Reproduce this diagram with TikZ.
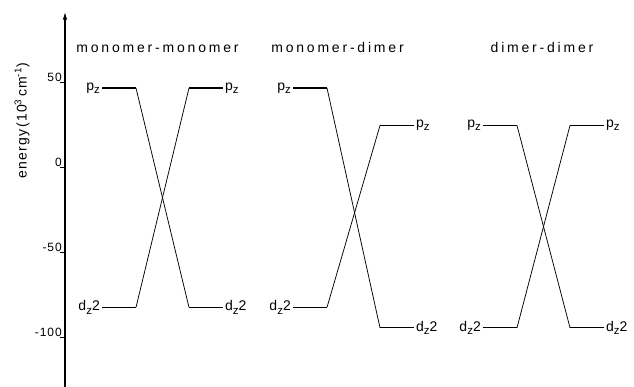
\documentclass[tikz,border=0pt]{standalone}
\usepackage{fontspec}
\setmainfont{Liberation Sans}
\newfontfamily\spacedfont[LetterSpace=20]{Liberation Sans}
\newfontfamily\labfont[LetterSpace=8]{Liberation Sans}
\usetikzlibrary{arrows.meta}
\newcommand{\lowz}{\raisebox{-0.45ex}{\fontsize{11.5}{12}\selectfont z}}

\begin{document}
\begin{tikzpicture}[x=1pt,y=1.7pt,
    level/.style={line width=1.2pt},
    link/.style={line width=0.75pt},
    orb/.style={font=\labfont\fontsize{14}{16}\selectfont, inner sep=2pt},
    title/.style={font=\spacedfont\fontsize{14}{16}\selectfont, anchor=base},
    ticklab/.style={font=\labfont\fontsize{12}{14}\selectfont, inner sep=1pt}]
    \useasboundingbox (-65,-128.8) rectangle (569,98.8);

    % energy axis
    \coordinate (axbot) at (0,-128.8);
    \coordinate (axtop) at (0,92);
    \draw[line width=1.3pt, -{Latex[length=8pt,width=4.5pt]}] (axbot) -- (axtop);
    \foreach \e in {50,0,-50,-100} {
        \draw[line width=1pt] (-5,\e) -- (0,\e);
        \node[ticklab, anchor=south east] (tick\e) at (-2,\e) {\e};
    }
    \node[orb, rotate=90] (elabel) at (-43,28)
        {energy\,(10\textsuperscript{3}\,cm\textsuperscript{-1})};

    % titles
    \node[title] (tmm) at (92.5,68) {monomer-monomer};
    \node[title] (tmd) at (272.5,68) {monomer-dimer};
    \node[title] (tdd) at (477,68) {dimer-dimer};

    % levels: name/left x/left pz/left dz2/right pz/right dz2
    \foreach \n/\x/\pl/\dl/\pr/\dr in {mm/37/47/-82/47/-82, md/228/47/-82/25/-94, dd/418/25/-94/25/-94} {
        \coordinate (\n pla) at (\x,\pl);
        \coordinate (\n plb) at (\x+34,\pl);
        \coordinate (\n dla) at (\x,\dl);
        \coordinate (\n dlb) at (\x+34,\dl);
        \coordinate (\n pra) at (\x+87,\pr);
        \coordinate (\n prb) at (\x+121,\pr);
        \coordinate (\n dra) at (\x+87,\dr);
        \coordinate (\n drb) at (\x+121,\dr);
        \draw[level] (\n pla) -- (\n plb);
        \draw[level] (\n dla) -- (\n dlb);
        \draw[level] (\n pra) -- (\n prb);
        \draw[level] (\n dra) -- (\n drb);
        \draw[link] (\n dlb) -- (\n pra);
        \draw[link] (\n plb) -- (\n dra);
        \node[orb, anchor=east] (\n pl) at (\n pla) {p\lowz};
        \node[orb, anchor=east] (\n dl) at (\n dla) {d\lowz 2};
        \node[orb, anchor=west] (\n pr) at (\n prb) {p\lowz};
        \node[orb, anchor=west] (\n dr) at (\n drb) {d\lowz 2};
    }
\end{tikzpicture}
\end{document}
